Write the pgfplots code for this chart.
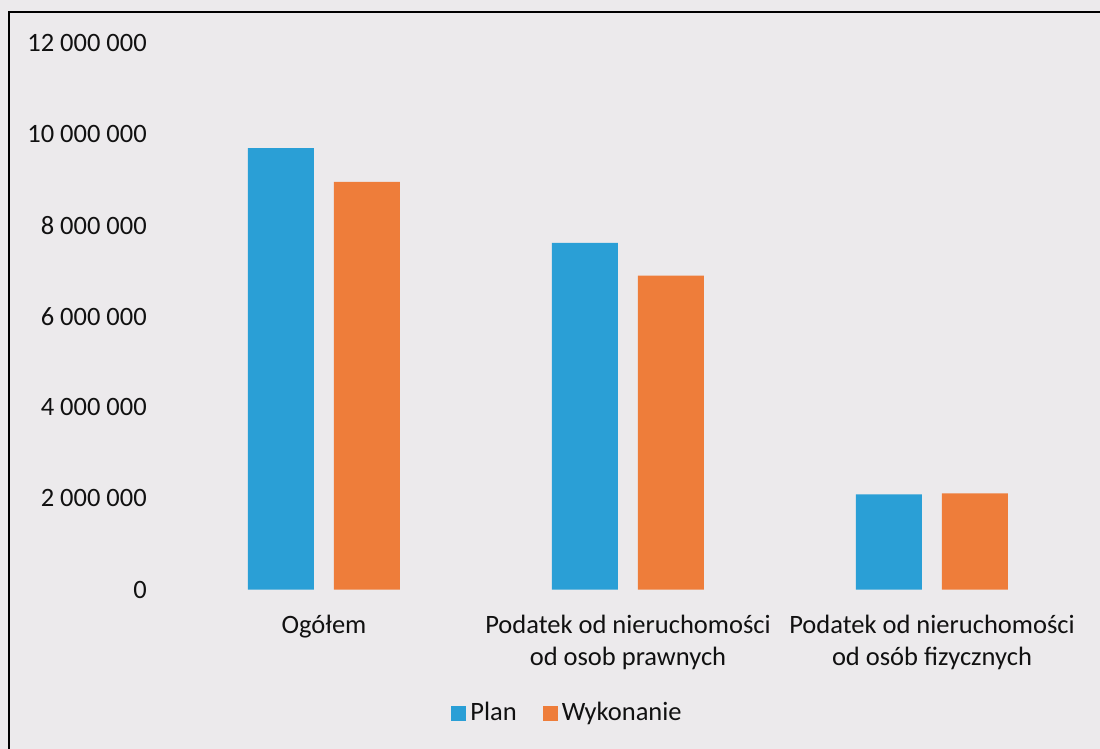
\documentclass[border=0pt]{standalone}
\usepackage{pgfplots}
\pgfplotsset{compat=1.18}
\usepackage{fontspec}
\setmainfont{Carlito}
\definecolor{bgc}{HTML}{ECEAEC}
\definecolor{planc}{HTML}{2A9FD6}
\definecolor{wykc}{HTML}{EE7D3A}
\definecolor{txt}{HTML}{111111}
\begin{document}
\fontsize{13.25}{16}\selectfont
\begin{tikzpicture}[x=0.5pt,y=-0.5pt]
\useasboundingbox (0,0) rectangle (1100,749);
\fill[bgc] (0,0) rectangle (1100,749);
\draw[black, line width=1pt] (9,749) -- (9,12) -- (1100,12);
\begin{axis}[
  at={(86pt,-294.75pt)}, anchor=south west,
  scale only axis,
  width=456pt, height=273.25pt,
  xmin=-0.5, xmax=2.5, ymin=0, ymax=12000000,
  scaled y ticks=false,
  ybar=10pt, bar width=33pt,
  axis line style={draw=none},
  major tick length=0pt,
  xtick={0,1,2},
  xticklabels={Ogółem,{Podatek od nieruchomości\\od osob prawnych},{Podatek od nieruchomości\\od osób fizycznych}},
  xticklabel style={align=center, text=txt, font=\fontsize{13.25}{16}\selectfont, yshift=-8pt},
  ytick={0,2000000,4000000,6000000,8000000,10000000,12000000},
  yticklabels={0,2 000 000,4 000 000,6 000 000,8 000 000,10 000 000,12 000 000},
  yticklabel style={text=txt, font=\fontsize{13.25}{15}\selectfont, xshift=-8pt},
  legend style={at={(0.4348,-0.226)}, anchor=center, draw=none, fill=none,
    legend columns=2, font=\fontsize{13.25}{15}\selectfont, text=txt,
    /tikz/every even column/.append style={column sep=11pt}},
  legend image code/.code={\fill[#1] (0pt,-3.75pt) rectangle (7.5pt,3.75pt);},
]
\addplot[fill=planc, draw=none] coordinates {(0,9690000) (1,7610000) (2,2090000)};
\addplot[fill=wykc, draw=none] coordinates {(0,8950000) (1,6890000) (2,2110000)};
\legend{Plan,Wykonanie}
\end{axis}
\end{tikzpicture}
\end{document}
